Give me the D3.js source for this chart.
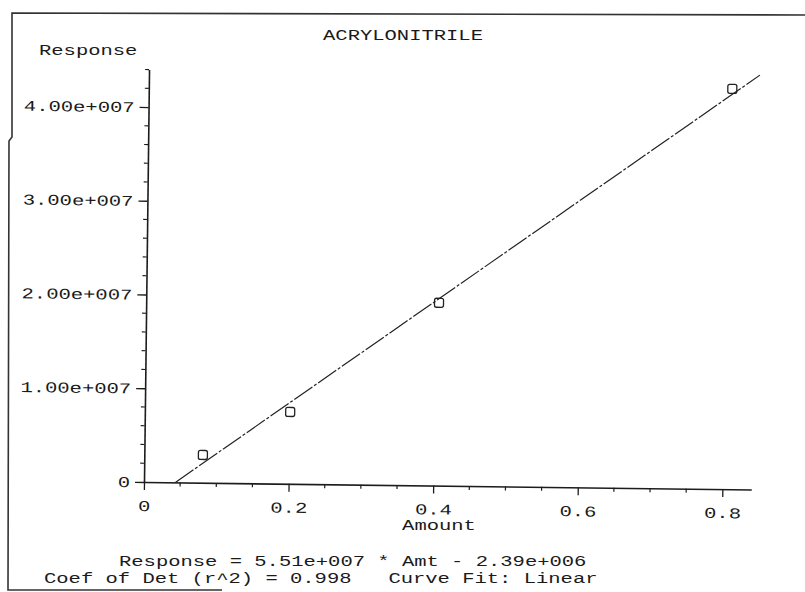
<!DOCTYPE html>
<html><head><meta charset="utf-8">
<script src="https://cdn.jsdelivr.net/npm/d3@7"></script>
<style>
html,body{margin:0;padding:0;background:#fff;}
svg{display:block;}
text{font-family:"Liberation Mono","DejaVu Sans Mono",monospace;font-size:15px;fill:#1a1a1a;white-space:pre;}
</style>
</head><body>
<svg id="c" width="805" height="592"></svg>
<script>
// ---- data ----
const title = "ACRYLONITRILE";
const yAxisTitle = "Response";
const xAxisTitle = "Amount";
const amounts   = [0.081, 0.201, 0.405, 0.807];
const responses = [2.96e6, 7.66e6, 1.95e7, 4.27e7];
const fitAmt  = [0.0434, 0.845];
const fitResp = [0, 4.42e7];
const xTickValues = [0, 0.2, 0.4, 0.6, 0.8];
const xTickLabels = ["0", "0.2", "0.4", "0.6", "0.8"];
const yTickValues = [0, 1e7, 2e7, 3e7, 4e7];
const yTickLabels = ["0", "1.00e+007", "2.00e+007", "3.00e+007", "4.00e+007"];
const footerLines = ["Response = 5.51e+007 * Amt - 2.39e+006",
                     "Coef of Det (r^2) = 0.998   Curve Fit: Linear"];

// ---- layout ----
const CW = 12.3;            // character cell width
const X0 = 144, Y0 = 482;   // origin in pixels
const svg = d3.select("#c");
const ink = "#1c1c1c";

function stretch(sel){
  sel.each(function(){
    const n = this.textContent.length;
    d3.select(this).attr("textLength", n*CW).attr("lengthAdjust","spacingAndGlyphs")
      .attr("xml:space","preserve");
  });
}

// border (scanned page frame)
svg.append("path")
  .attr("d","M805,15 L12,13 L12,137 L9,141 L8,590 L222,590")
  .attr("fill","none").attr("stroke","#333").attr("stroke-width",1.6);

const x = d3.scaleLinear().domain([0, 0.84]).range([X0, X0 + 0.84*723]);
const y = d3.scaleLinear().domain([0, 4.4e7]).range([Y0, Y0 - 412.5]);

const g = svg.append("g").attr("transform", `rotate(0.7,${X0},${Y0})`);

// minor ticks
const xMinor = d3.range(0.05, 0.8401, 0.05).filter(v => Math.abs(v/0.2 - Math.round(v/0.2)) > 1e-6);
const yMinor = d3.range(2e6, 4.41e7, 2e6).filter(v => v % 1e7 !== 0);
g.append("g").selectAll("line").data(xMinor).join("line")
  .attr("x1", d => x(d)).attr("x2", d => x(d)).attr("y1", Y0).attr("y2", Y0 + 4)
  .attr("stroke", ink).attr("stroke-width", 1.2);
g.append("g").selectAll("line").data(yMinor).join("line")
  .attr("y1", d => y(d)).attr("y2", d => y(d)).attr("x1", X0).attr("x2", X0 - 4)
  .attr("stroke", ink).attr("stroke-width", 1.2);

// axes
const xAxis = g.append("g").attr("transform", `translate(0,${Y0})`)
  .call(d3.axisBottom(x).tickValues(xTickValues).tickFormat((d,i) => xTickLabels[i])
        .tickSize(8).tickSizeOuter(0));
xAxis.selectAll("text").attr("y", 29).attr("dy", 0).attr("fill", ink)
  .style("font-family",'"Liberation Mono",monospace').style("font-size","15px").call(stretch);

const yAxis = g.append("g").attr("transform", `translate(${X0},0)`)
  .call(d3.axisLeft(y).tickValues(yTickValues).tickFormat((d,i) => yTickLabels[i])
        .tickSize(9).tickPadding(5).tickSizeOuter(0));
yAxis.selectAll("text").attr("fill", ink)
  .style("font-family",'"Liberation Mono",monospace').style("font-size","15px").call(stretch);

[xAxis, yAxis].forEach(a => {
  a.select(".domain").attr("stroke", ink).attr("stroke-width", 1.6);
  a.selectAll(".tick line").attr("stroke", ink).attr("stroke-width", 1.3);
});

// fit line
g.append("path")
  .datum(fitAmt.map((a,i) => [a, fitResp[i]]))
  .attr("d", d3.line().x(d => x(d[0])).y(d => y(d[1])))
  .attr("fill","none").attr("stroke","#222").attr("stroke-width",1.2)
  .attr("stroke-dasharray","22 2 3 2");

// data markers
g.append("g").selectAll("rect").data(amounts.map((a,i) => [a, responses[i]])).join("rect")
  .attr("x", d => x(d[0]) - 4.5).attr("y", d => y(d[1]) - 4.5)
  .attr("width", 9).attr("height", 9).attr("rx", 2)
  .attr("fill","none").attr("stroke","#222").attr("stroke-width",1.3);

// texts
svg.append("text").attr("x", 403).attr("y", 40).attr("text-anchor","middle").text(title).call(stretch);
svg.append("text").attr("x", 39).attr("y", 55).text(yAxisTitle).call(stretch);
svg.append("text").attr("x", 439).attr("y", 530).attr("text-anchor","middle").text(xAxisTitle).call(stretch);
svg.append("text").attr("x", 119).attr("y", 566).style("font-size","14px").text(footerLines[0]).call(stretch);
svg.append("text").attr("x", 44).attr("y", 583).style("font-size","14px").text(footerLines[1]).call(stretch);
</script>
</body></html>
